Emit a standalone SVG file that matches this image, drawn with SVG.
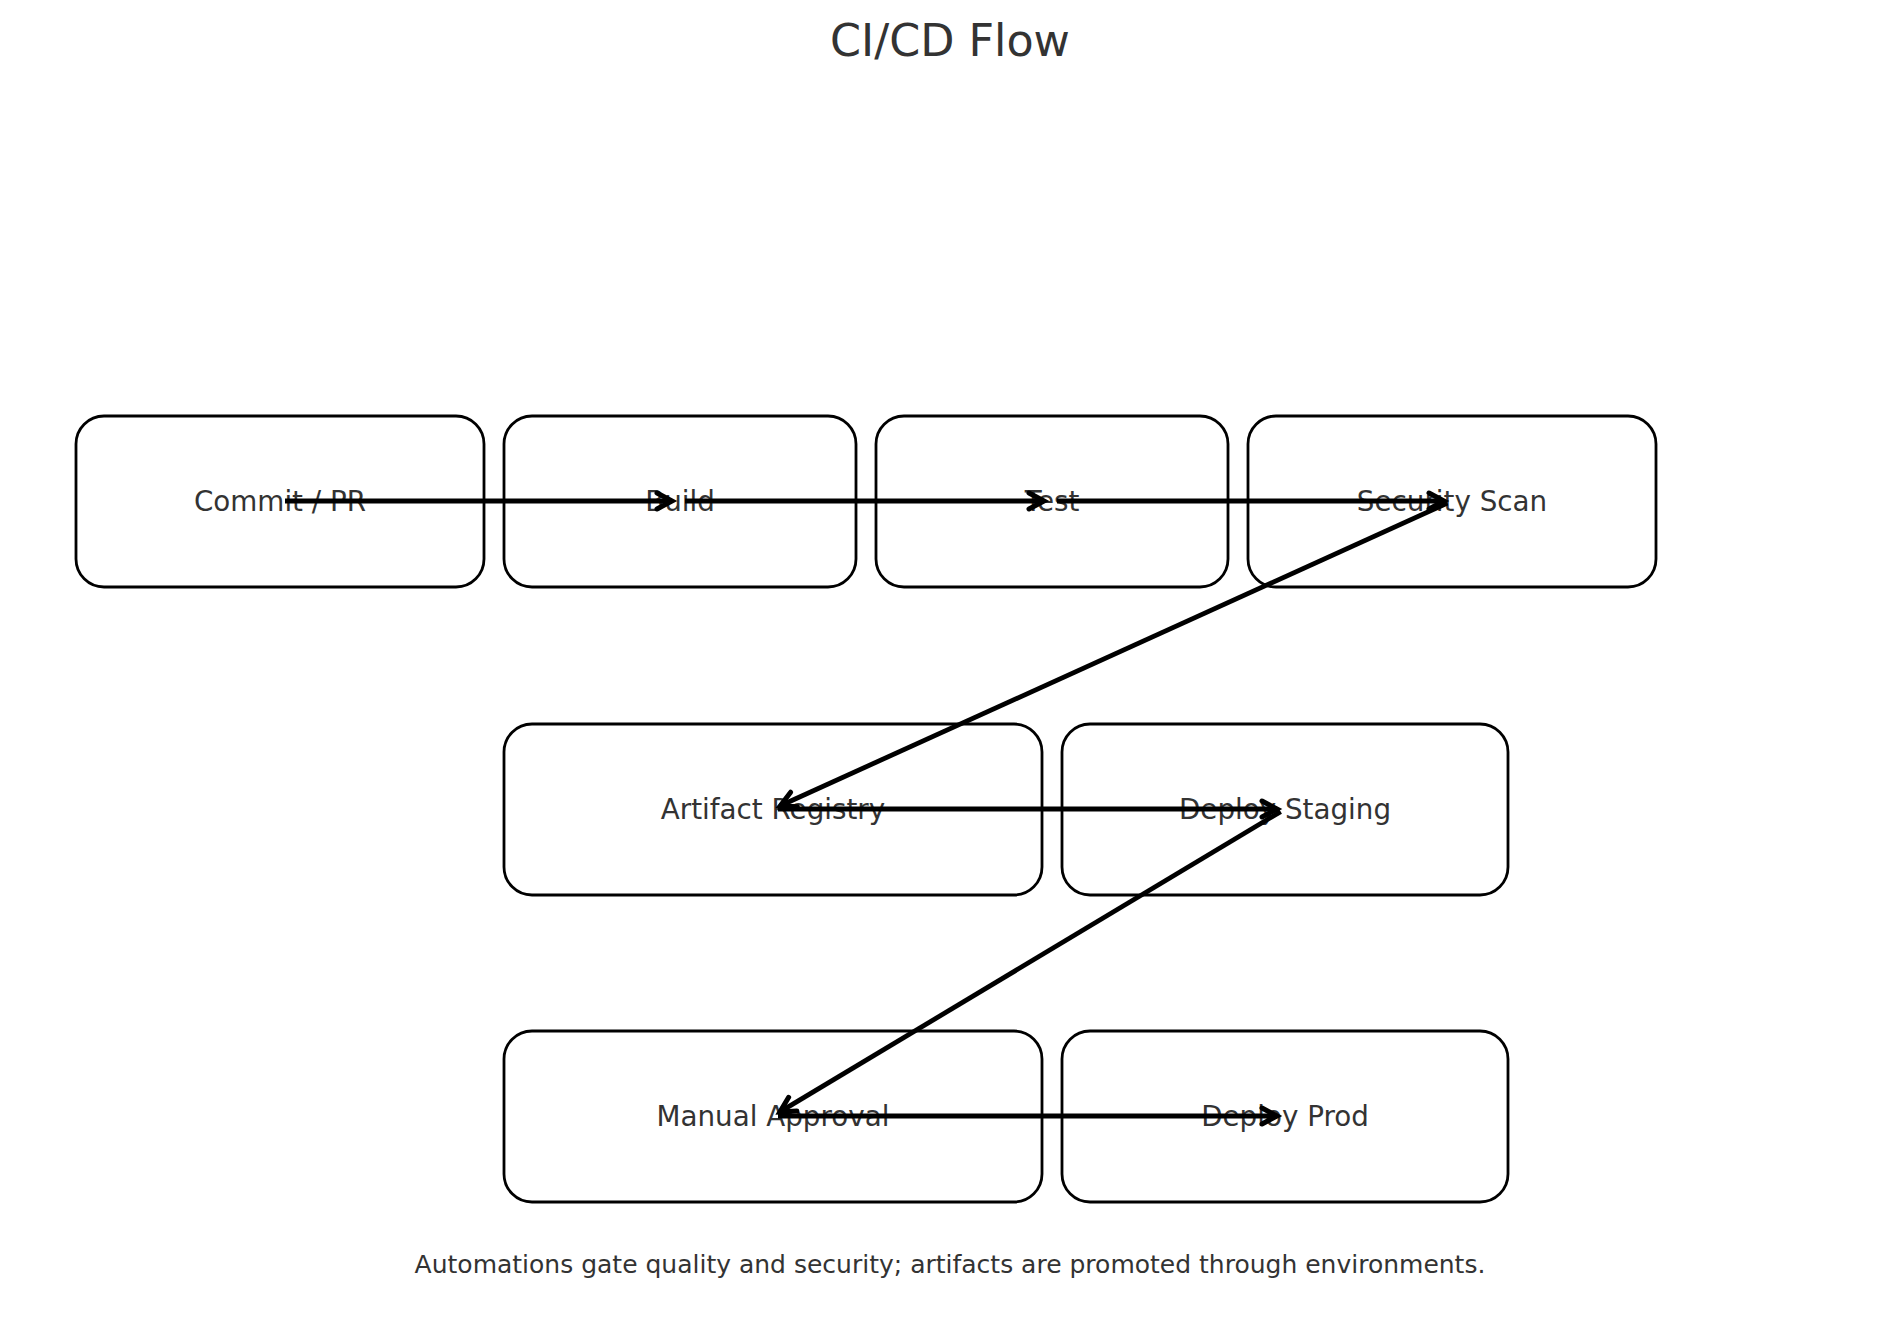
<svg xmlns="http://www.w3.org/2000/svg" width="1900" height="1322" viewBox="0 0 1900 1322">
  <style>
    .box { fill: #ffffff; stroke: #000000; stroke-width: 2.8; }
    .lbl { font-family: "DejaVu Sans", "Liberation Sans", sans-serif; font-size: 27.78px; fill: #333333; text-anchor: middle; }
    .title { font-family: "DejaVu Sans", "Liberation Sans", sans-serif; font-size: 44.44px; fill: #333333; text-anchor: middle; }
    .foot { font-family: "DejaVu Sans", "Liberation Sans", sans-serif; font-size: 25px; fill: #333333; text-anchor: middle; }
    .edge { fill: none; stroke: #000000; stroke-width: 4.8; marker-end: url(#ah); }
  </style>
  <defs>
    <marker id="ah" markerUnits="userSpaceOnUse" markerWidth="40" markerHeight="40" viewBox="-20 -20 40 40" refX="0" refY="0" orient="auto" overflow="visible">
      <path d="M-15,-8 L0,0 L-15,8" fill="none" stroke="#000000" stroke-width="5" stroke-linejoin="miter" stroke-linecap="round"/>
    </marker>
  </defs>
  <rect width="1900" height="1322" fill="#ffffff"/>
  <text class="title" x="950" y="56">CI/CD Flow</text>

  <g id="node-commit">
    <rect class="box" x="76" y="416" width="408" height="171" rx="28" ry="28"/>
    <text class="lbl" x="280" y="511">Commit / PR</text>
  </g>
  <g id="node-build">
    <rect class="box" x="504" y="416" width="352" height="171" rx="28" ry="28"/>
    <text class="lbl" x="680" y="511">Build</text>
  </g>
  <g id="node-test">
    <rect class="box" x="876" y="416" width="352" height="171" rx="28" ry="28"/>
    <text class="lbl" x="1052" y="511">Test</text>
  </g>
  <g id="node-security">
    <rect class="box" x="1248" y="416" width="408" height="171" rx="28" ry="28"/>
    <text class="lbl" x="1452" y="511">Security Scan</text>
  </g>
  <g id="node-artifact">
    <rect class="box" x="504" y="724" width="538" height="171" rx="28" ry="28"/>
    <text class="lbl" x="773" y="819">Artifact Registry</text>
  </g>
  <g id="node-staging">
    <rect class="box" x="1062" y="724" width="446" height="171" rx="28" ry="28"/>
    <text class="lbl" x="1285" y="819">Deploy Staging</text>
  </g>
  <g id="node-approval">
    <rect class="box" x="504" y="1031" width="538" height="171" rx="28" ry="28"/>
    <text class="lbl" x="773" y="1126">Manual Approval</text>
  </g>
  <g id="node-prod">
    <rect class="box" x="1062" y="1031" width="446" height="171" rx="28" ry="28"/>
    <text class="lbl" x="1285" y="1126">Deploy Prod</text>
  </g>

  <g id="connectors">
    <line class="edge" x1="285" y1="501" x2="672" y2="501"/>
    <line class="edge" x1="685" y1="501" x2="1044" y2="501"/>
    <line class="edge" x1="1057" y1="501" x2="1444" y2="501"/>
    <line class="edge" x1="1447.4" y1="503.1" x2="780.3" y2="805.7"/>
    <line class="edge" x1="778" y1="809" x2="1277" y2="809"/>
    <line class="edge" x1="1280.7" y1="811.6" x2="779.9" y2="1111.9"/>
    <line class="edge" x1="778" y1="1116" x2="1277" y2="1116"/>
  </g>

  <text class="foot" x="950" y="1273">Automations gate quality and security; artifacts are promoted through environments.</text>
</svg>
